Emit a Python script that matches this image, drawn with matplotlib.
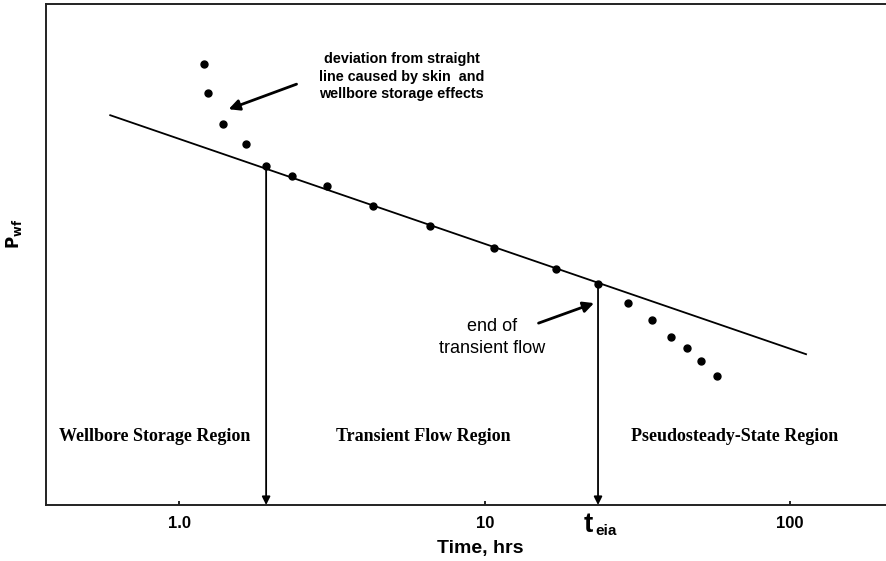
import matplotlib
matplotlib.use("Agg")
import matplotlib.pyplot as plt
import numpy as np

# Data (time in hrs, Pwf in arbitrary units)
time_pts = [1.206, 1.243, 1.391, 1.654, 1.924, 2.340, 3.046, 4.309, 6.62,
            10.72, 17.12, 23.49, 29.45, 35.29, 40.72, 45.94, 51.05, 57.6]
pwf_pts = [88.0, 82.2, 76.0, 72.1, 67.7, 65.7, 63.7, 59.7, 55.7,
           51.3, 47.1, 44.1, 40.3, 36.9, 33.5, 31.3, 28.7, 25.7]
line_t = [0.594, 112.7]
line_p = [77.8, 30.1]
t_wbs_end = 1.924
p_wbs_end = 67.7
t_eia = 23.49
p_eia = 44.1
xticks = [1, 10, 100]
xticklabels = ["1.0", "10", "100"]
region_labels = ["Wellbore Storage Region", "Transient Flow Region", "Pseudosteady-State Region"]
region_x = [0.833, 6.28, 65.96]

fig = plt.figure(figsize=(8.87, 5.61), dpi=100)
ax = fig.add_axes([46/887, 56/561, 1 - 46/887, 501/561])
ax.set_xscale("log")
ax.set_xlim(0.366, 207.5)
ax.set_ylim(0, 100)

ax.plot(line_t, line_p, color="black", lw=1.3)
ax.plot(time_pts, pwf_pts, "o", color="black", ms=5, ls="none")

arrow_kw = dict(arrowstyle="-|>", color="black", lw=1.3, mutation_scale=12, shrinkA=0, shrinkB=0)
ax.annotate("", xy=(t_wbs_end, 0), xytext=(t_wbs_end, p_wbs_end), arrowprops=arrow_kw)
ax.annotate("", xy=(t_eia, 0), xytext=(t_eia, p_eia), arrowprops=arrow_kw)

sans = ["Liberation Sans", "DejaVu Sans"]
serif = ["Liberation Serif", "DejaVu Serif"]
narrow = ["Liberation Sans Narrow", "Liberation Sans", "DejaVu Sans"]

# annotation arrows
ax.annotate("", xy=(1.45, 79.0), xytext=(2.42, 84.0),
            arrowprops=dict(arrowstyle="-|>", color="black", lw=2.0, mutation_scale=16, shrinkA=0, shrinkB=0))
ax.annotate("", xy=(22.8, 40.3), xytext=(15.0, 36.3),
            arrowprops=dict(arrowstyle="-|>", color="black", lw=2.0, mutation_scale=16, shrinkA=0, shrinkB=0))

ax.text(5.35, 85.5, "deviation from straight\nline caused by skin  and\nwellbore storage effects",
        ha="center", va="center", fontsize=10.4, fontweight="bold", family=sans, linespacing=1.3)
ax.text(10.56, 33.5, "end of\ntransient flow", ha="center", va="center",
        fontsize=13, family=sans, linespacing=1.4)

for lab, xx in zip(region_labels, region_x):
    ax.text(xx, 13.6, lab, ha="center", va="center", fontsize=13, fontweight="bold", family=serif)

ax.spines["right"].set_visible(False)
for s in ["left", "top", "bottom"]:
    ax.spines[s].set_linewidth(1.4)
    ax.spines[s].set_color("#222222")

ax.set_yticks([])
ax.set_xticks(xticks)
ax.set_xticklabels(xticklabels, family=narrow, fontsize=12, fontweight="bold")
ax.xaxis.set_minor_locator(matplotlib.ticker.NullLocator())
ax.tick_params(axis="x", direction="in", length=3, width=1.2, pad=8)

ax.set_xlabel("Time, hrs", family=narrow, fontsize=14, fontweight="bold")
ax.xaxis.set_label_coords((480 - 46) / 841, -(548 - 505) / 501, transform=ax.transAxes)
ax.xaxis.label.set_va("center")
fig.text(14/887, 1 - 234/561, r"$\mathbf{P_{wf}}$", rotation=90, ha="center", va="center", fontsize=12)

# t_eia label under arrow
ax.text(22.62, -5.4, "t", ha="right", va="baseline", fontsize=20, fontweight="bold",
        family=sans, clip_on=False)
ax.text(23.0, -6.0, "eia", ha="left", va="baseline", fontsize=11, fontweight="bold",
        family=narrow, clip_on=False)

fig.savefig("out.png", dpi=100)
